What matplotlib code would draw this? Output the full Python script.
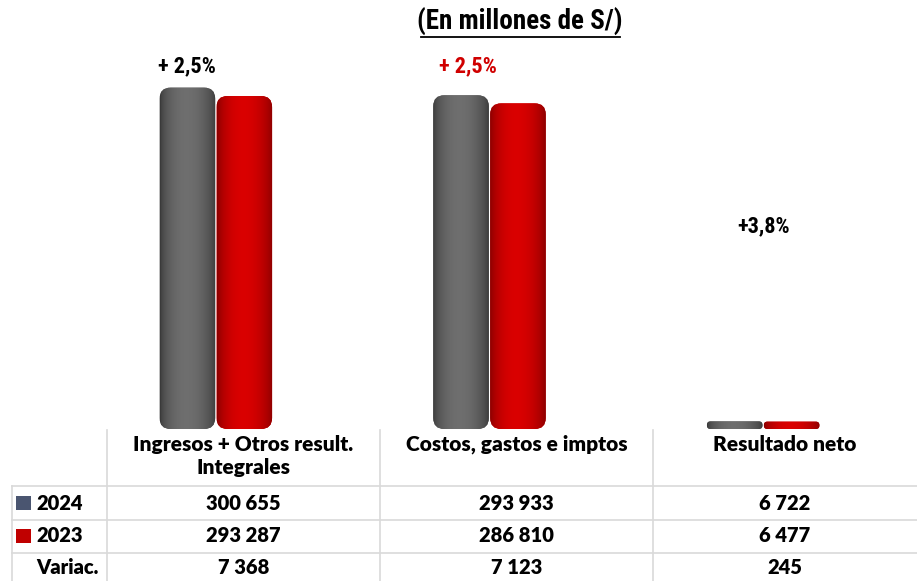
import numpy as np
import matplotlib.pyplot as plt
from matplotlib import font_manager
from matplotlib.patches import FancyBboxPatch, Rectangle
from matplotlib.lines import Line2D

categories = ["Ingresos + Otros result.\nIntegrales", "Costos, gastos e imptos", "Resultado neto"]
years = ["2024", "2023"]
values_2024 = [300655, 293933, 6722]
values_2023 = [293287, 286810, 6477]
variac = [7368, 7123, 245]
pct_labels = ["+ 2,5%", "+ 2,5%", "+3,8%"]
pct_colors = ["black", "#d00000", "black"]

W, H = 917, 581
fig = plt.figure(figsize=(W / 100, H / 100), dpi=100)
fig.patch.set_facecolor("white")

have = {f.name for f in font_manager.fontManager.ttflist}
narrow = [n for n in ["Liberation Sans Narrow", "Roboto Condensed", "Roboto", "DejaVu Sans"] if n in have][:1] + ["DejaVu Sans"]
tabfont = ["Lato", "DejaVu Sans"]


def fx(x):
    return x / W


def fy(y):
    return 1 - y / H


# chart area
ax_l, ax_r, ax_t, ax_b = 79, 900, 60, 429
ax = fig.add_axes([fx(ax_l), fy(ax_b), (ax_r - ax_l) / W, (ax_b - ax_t) / H])
ax.set_xlim(-0.5, 2.5)
ymax = 325000
ax.set_ylim(0, ymax)
ax.axis("off")

bw = 0.203
off = 0.104
px_x = (ax_r - ax_l) / 3.0       # pixels per x unit
px_y = (ax_b - ax_t) / ymax      # pixels per y unit
r_px = 11


def shade(base, dark):
    t = np.linspace(0, 1, 80)
    f = np.sin(np.pi * t) ** 0.6
    f = f * (1 - 0.15 * t)
    base = np.array(base)
    dark = np.array(dark)
    row = dark[None, :] + (base - dark)[None, :] * f[:, None]
    return row[None, :, :]


grad_grey = shade([0.45, 0.45, 0.45], [0.22, 0.22, 0.22])
grad_red = shade([0.88, 0.0, 0.0], [0.52, 0.0, 0.0])

for i in range(len(categories)):
    for vals, dx, grad, fc in [(values_2024, -off, grad_grey, "#606060"),
                               (values_2023, off, grad_red, "#cc0000")]:
        h = vals[i]
        x0 = i + dx - bw / 2
        h_px = h * px_y
        r = min(r_px, h_px / 2 * 0.95)
        aspect = (1 / px_y) / (1 / px_x)
        patch = FancyBboxPatch((x0, 0), bw, h,
                               boxstyle="round,pad=0,rounding_size=%f" % (r / px_x),
                               mutation_aspect=aspect,
                               facecolor=fc, edgecolor="none", zorder=2)
        ax.add_patch(patch)
        im = ax.imshow(grad, extent=[x0, x0 + bw, 0, h], aspect="auto",
                       interpolation="bilinear", zorder=3)
        im.set_clip_path(patch)

ax.set_xlim(-0.5, 2.5)
ax.set_ylim(0, ymax)

# variation labels
lab_x = [0 - off, 1 - off + 0.025, 2]
lab_y = [66, 66, 226]
for i in range(3):
    xd = ax.transData.transform((lab_x[i], 0))[0]
    fig.text(xd / W, fy(lab_y[i]), pct_labels[i], ha="center", va="center",
             fontsize=16, fontweight="bold", color=pct_colors[i], family=narrow)

# title
fig.text(fx(520), fy(22), "(En millones de S/)", ha="center", va="center",
         fontsize=19.5, fontweight="bold", family=narrow)
fig.add_artist(Line2D([fx(421), fx(620)], [fy(37), fy(37)], color="black", lw=1.3))

# table
gc = "#d9d9d9"
col_x = [12, 107, 380, 653, 917]
row_y = [430, 486, 520, 553, 581]
for x in col_x[1:4]:
    fig.add_artist(Line2D([fx(x), fx(x)], [fy(430), fy(581)], color=gc, lw=1.2))
fig.add_artist(Line2D([fx(12), fx(12)], [fy(486), fy(581)], color=gc, lw=1.2))
for y in row_y[1:4]:
    fig.add_artist(Line2D([fx(12), fx(917)], [fy(y), fy(y)], color=gc, lw=1.2))

centers = [(col_x[j + 1] + col_x[j + 2]) / 2 for j in range(3)]
for j, c in enumerate(categories):
    fig.text(fx(centers[j]), fy(435), c, ha="center", va="top", fontsize=15,
             fontweight="heavy", family=tabfont, linespacing=1.27)


def fmt(v):
    return f"{v:,}".replace(",", " ")


rows = [values_2024, values_2023, variac]
ycent = [503, 536, 568]
for r, vals in enumerate(rows):
    for j, v in enumerate(vals):
        fig.text(fx(centers[j]), fy(ycent[r]), fmt(v), ha="center", va="center",
                 fontsize=14.5, fontweight="heavy", family=tabfont)

# row headers with legend swatches
sw_cols = ["#4a5570", "#c00000"]
for r, yr in enumerate(years):
    fig.add_artist(Rectangle((fx(16), fy(ycent[r] + 7)), 15 / W, 14 / H,
                             transform=fig.transFigure, facecolor=sw_cols[r],
                             edgecolor="none"))
    fig.text(fx(36), fy(ycent[r]), yr, ha="left", va="center", fontsize=14.5,
             fontweight="heavy", family=tabfont)
fig.text(fx(36), fy(ycent[2]), "Variac.", ha="left", va="center", fontsize=14.5,
         fontweight="heavy", family=tabfont)

fig.savefig("out.png", dpi=100)
